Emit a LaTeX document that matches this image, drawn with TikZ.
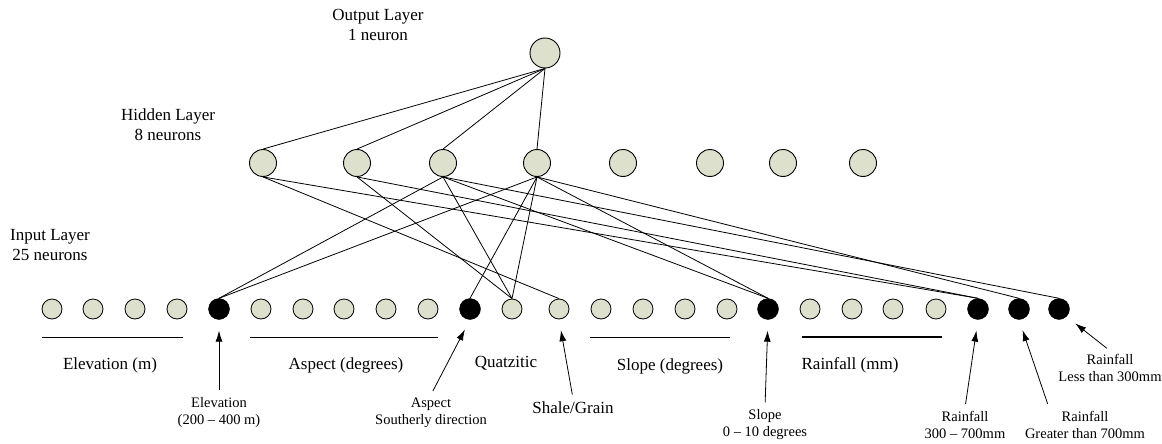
\documentclass[tikz,border=0pt]{standalone}
\usepackage{fontspec}
\setmainfont{Liberation Serif}
\usetikzlibrary{arrows.meta}
\definecolor{neuron}{RGB}{220,224,204}

\begin{document}
\begin{tikzpicture}[x=1pt,y=-1pt,
    outn/.style={circle,draw,fill=neuron,line width=0.9pt,inner sep=0pt,minimum size=30pt},
    hid/.style={circle,draw,fill=neuron,line width=0.9pt,inner sep=0pt,minimum size=27pt},
    inpn/.style={circle,draw,fill=neuron,line width=0.8pt,inner sep=0pt,minimum size=20pt},
    inpb/.style={circle,draw,fill=black,inner sep=0pt,minimum size=21pt},
    link/.style={line width=0.8pt},
    pointer/.style={-{Latex[length=11pt,width=7pt]},line width=0.8pt,shorten >=11pt,shorten <=4pt},
    big/.style={font=\fontsize{17}{20}\selectfont,align=center},
    small/.style={font=\fontsize{14.5}{17}\selectfont,align=center}]
    \useasboundingbox (0,0) rectangle (1162,444);

    % layer titles
    \node[big] (lOut) at (378,25) {Output Layer\\1 neuron};
    \node[big] (lHid) at (168,125) {Hidden Layer\\8 neurons};
    \node[big] (lInp) at (50,245) {Input Layer\\25 neurons};

    % neurons
    \node[outn] (out) at (545,53) {};
    \foreach \n/\x in {1/263,2/357,3/443,4/537,5/623,6/710,7/783,8/863}
        \node[hid] (h\n) at (\x,163) {};
    \foreach \n/\x in {1/52,2/93,3/135,4/177,6/261,7/303,8/344,9/386,10/428,12/512,13/559,14/601,15/643,16/685,17/727,19/810,20/852,21/893,22/936}
        \node[inpn] (i\n) at (\x,309) {};
    \foreach \n/\x in {5/219,11/470,18/768,23/978,24/1019,25/1059}
        \node[inpb] (i\n) at (\x,309) {};

    % weights
    \foreach \h in {h1,h2,h3,h4}
        \draw[link] (out.south) -- (\h.north);
    \foreach \h/\i in {h1/i13,h1/i23,h2/i12,h2/i23,h3/i5,h3/i12,h3/i18,h3/i25,h4/i5,h4/i11,h4/i12,h4/i18,h4/i24}
        \draw[link] (\h.south) -- (\i.north);

    % input groups
    \draw[link] (42,337) -- (183,337);
    \draw[link] (250,337) -- (438,337);
    \draw[link] (590,337) -- (730,337);
    \draw[line width=1.8pt] (802,337) -- (942,337);
    \node[big] (gElev) at (110,365) {Elevation (m)};
    \node[big] (gAsp) at (346,365) {Aspect (degrees)};
    \node[big] (gQuat) at (506,363) {Quatzitic};
    \node[big] (gSlope) at (670,366) {Slope (degrees)};
    \node[big] (gRain) at (850,365) {Rainfall (mm)};

    % selected inputs
    \node[small] (lElev) at (219,413) {Elevation\\(200 – 400 m)};
    \node[small] (lAsp) at (431,413) {Aspect\\Southerly direction};
    \node[big] (lShale) at (573,408) {Shale/Grain};
    \node[small] (lSlope) at (765,425) {Slope\\0 – 10 degrees};
    \node[small] (lRainA) at (965,425) {Rainfall\\300 – 700mm};
    \node[small] (lRainB) at (1085,425) {Rainfall\\Greater than 700mm};
    \node[small] (lRainC) at (1110,368) {Rainfall\\Less than 300mm};
    \draw[pointer] (lElev.north) -- (i5.south);
    \draw[pointer] (lAsp.north) -- (i11.south);
    \draw[pointer] (lShale.north) -- (i13.south);
    \draw[pointer] (lSlope.north) -- (i18.south);
    \draw[pointer] (lRainA.north) -- (i23.south);
    \draw[pointer] ([xshift=-36pt]lRainB.north) -- (i24.south);
    \draw[pointer] (lRainC.north) -- (i25.south east);
\end{tikzpicture}
\end{document}
